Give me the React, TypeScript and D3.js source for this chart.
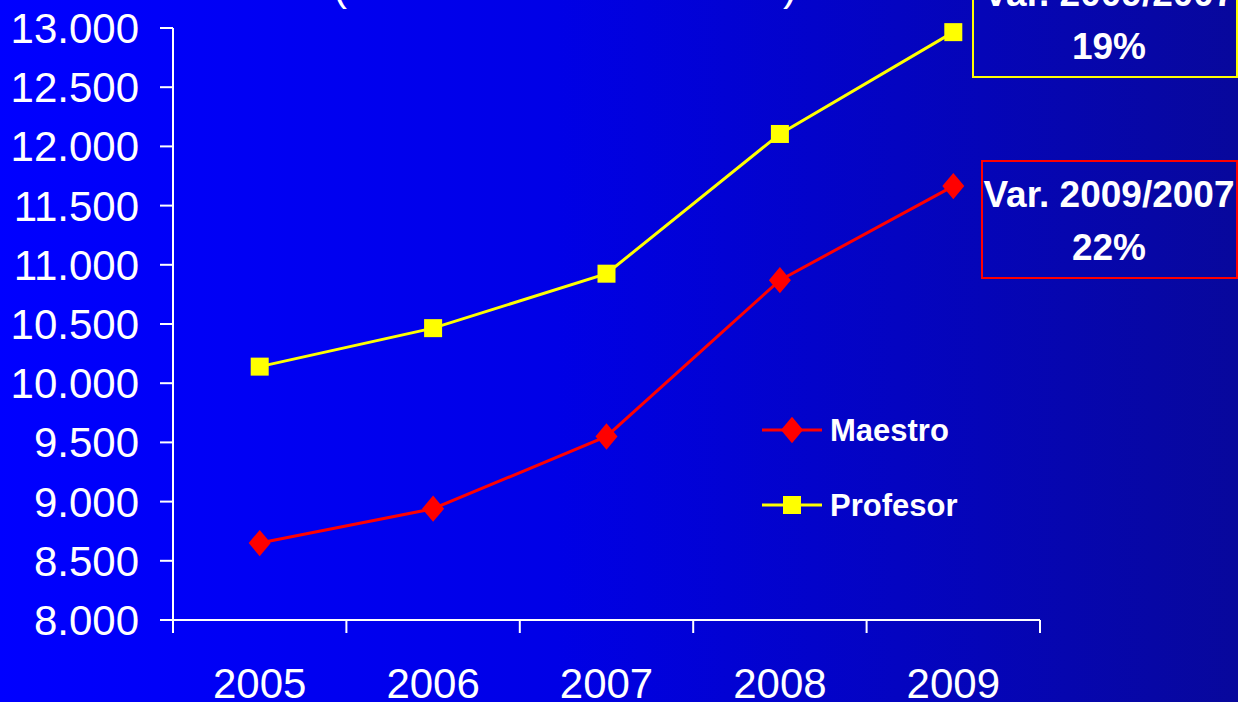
import { useEffect, useRef } from "react";
import * as d3 from "d3";

const anios = ["2005", "2006", "2007", "2008", "2009"];
const maestro = [8650, 8940, 9550, 10870, 11665];
const profesor = [10140, 10465, 10925, 12105, 12965];
const ticksY = [8000, 8500, 9000, 9500, 10000, 10500, 11000, 11500, 12000, 12500, 13000];
const cajaProfesor = ["Var. 2009/2007", "19%"];
const cajaMaestro = ["Var. 2009/2007", "22%"];

const ANCHO = 1238;
const ALTO = 702;

export default function App() {
  const svgRef = useRef<SVGSVGElement>(null);

  useEffect(() => {
    if (!svgRef.current) return;
    const svg = d3.select(svgRef.current);
    svg.selectAll("*").remove();

    const defs = svg.append("defs");
    const grad = defs.append("linearGradient").attr("id", "fondo").attr("x1", 0).attr("x2", 1).attr("y1", 0).attr("y2", 0);
    grad.append("stop").attr("offset", "0%").attr("stop-color", "#0000FF");
    grad.append("stop").attr("offset", "45%").attr("stop-color", "#0000E6");
    grad.append("stop").attr("offset", "100%").attr("stop-color", "#08089C");

    svg.append("rect").attr("width", ANCHO).attr("height", ALTO).attr("fill", "url(#fondo)");

    const fuente = "Liberation Sans, Arial, sans-serif";

    // titulo recortado
    svg.append("text").attr("x", 340).attr("y", 0).attr("fill", "#fff").attr("font-family", fuente).attr("font-size", 42).attr("text-anchor", "middle").text("(");
    svg.append("text").attr("x", 790).attr("y", 0).attr("fill", "#fff").attr("font-family", fuente).attr("font-size", 42).attr("text-anchor", "middle").text(")");

    const x = d3.scaleBand().domain(anios).range([173, 1040]);
    const y = d3.scaleLinear().domain([8000, 13000]).range([620, 28]);

    // eje Y
    svg.append("line").attr("x1", 173).attr("x2", 173).attr("y1", y(13000)).attr("y2", y(8000)).attr("stroke", "#fff").attr("stroke-width", 2);
    const gy = svg.append("g");
    ticksY.forEach((t) => {
      gy.append("line").attr("x1", 160).attr("x2", 173).attr("y1", y(t)).attr("y2", y(t)).attr("stroke", "#fff").attr("stroke-width", 2);
      gy.append("text")
        .attr("x", 139)
        .attr("y", y(t) + 15)
        .attr("text-anchor", "end")
        .attr("fill", "#fff")
        .attr("font-family", fuente)
        .attr("font-size", 42)
        .text(d3.format(",")(t).replace(",", "."));
    });

    // eje X
    svg.append("line").attr("x1", 173).attr("x2", 1040).attr("y1", y(8000)).attr("y2", y(8000)).attr("stroke", "#fff").attr("stroke-width", 2);
    const bordes = anios.map((a) => x(a) || 0).concat([1040]);
    bordes.forEach((b) => {
      svg.append("line").attr("x1", b).attr("x2", b).attr("y1", y(8000)).attr("y2", y(8000) + 13).attr("stroke", "#fff").attr("stroke-width", 2);
    });
    anios.forEach((a) => {
      svg.append("text")
        .attr("x", (x(a) || 0) + x.bandwidth() / 2)
        .attr("y", 698)
        .attr("text-anchor", "middle")
        .attr("fill", "#fff")
        .attr("font-family", fuente)
        .attr("font-size", 42)
        .text(a);
    });

    const cx = (a: string) => (x(a) || 0) + x.bandwidth() / 2;
    const linea = d3.line<number>().x((_, i) => cx(anios[i])).y((d) => y(d));

    const diamante = (g: any, px: number, py: number) =>
      g.append("path").attr("d", d3.symbol(d3.symbolDiamond, 200)()).attr("transform", `translate(${px},${py}) scale(1.45,1)`).attr("fill", "#FF0000");
    const cuadro = (g: any, px: number, py: number) =>
      g.append("rect").attr("x", px - 9).attr("y", py - 9).attr("width", 18).attr("height", 18).attr("fill", "#FFFF00");

    svg.append("path").datum(maestro).attr("d", linea).attr("fill", "none").attr("stroke", "#FF0000").attr("stroke-width", 3);
    maestro.forEach((v, i) => diamante(svg, cx(anios[i]), y(v)));

    svg.append("path").datum(profesor).attr("d", linea).attr("fill", "none").attr("stroke", "#FFFF00").attr("stroke-width", 3);
    profesor.forEach((v, i) => cuadro(svg, cx(anios[i]), y(v)));

    // leyenda
    const ley = [
      { nombre: "Maestro", color: "#FF0000", y: 430, marca: diamante },
      { nombre: "Profesor", color: "#FFFF00", y: 505, marca: cuadro },
    ];
    ley.forEach((l) => {
      svg.append("line").attr("x1", 762).attr("x2", 822).attr("y1", l.y).attr("y2", l.y).attr("stroke", l.color).attr("stroke-width", 3);
      l.marca(svg, 792, l.y);
      svg.append("text")
        .attr("x", 830)
        .attr("y", l.y + 11)
        .attr("fill", "#fff")
        .attr("font-family", fuente)
        .attr("font-weight", "bold")
        .attr("font-size", 31)
        .text(l.nombre);
    });

    // cajas de variacion
    const cajas = [
      { textos: cajaProfesor, color: "#FFFF00", x: 973, y: -40, h: 117 },
      { textos: cajaMaestro, color: "#FF0000", x: 982, y: 161, h: 117 },
    ];
    cajas.forEach((c) => {
      svg.append("rect").attr("x", c.x).attr("y", c.y).attr("width", 1237 - c.x).attr("height", c.h).attr("fill", "none").attr("stroke", c.color).attr("stroke-width", 2);
      c.textos.forEach((t, i) => {
        svg.append("text")
          .attr("x", 1109)
          .attr("y", c.y + c.h - 71 + i * 53)
          .attr("text-anchor", "middle")
          .attr("fill", "#fff")
          .attr("font-family", fuente)
          .attr("font-weight", "bold")
          .attr("font-size", 37)
          .text(t);
      });
    });
  }, []);

  return (
    <div style={{ position: "absolute", left: 0, top: 0 }}>
      <svg ref={svgRef} width={ANCHO} height={ALTO} viewBox={`0 0 ${ANCHO} ${ALTO}`} style={{ display: "block" }} />
    </div>
  );
}
